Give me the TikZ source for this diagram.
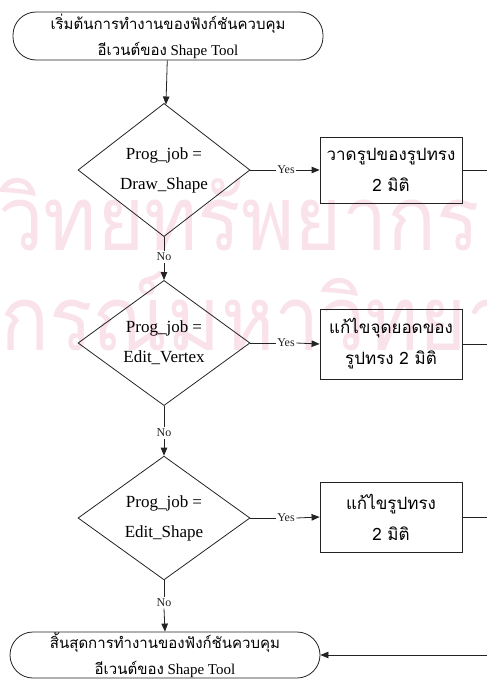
\documentclass[tikz,border=0pt]{standalone}
\usepackage{fontspec}
\setmainfont{Liberation Serif}
\newfontfamily\thaifont[Script=Thai]{Loma}
\usetikzlibrary{shapes.geometric,arrows.meta}
\definecolor{wmpink}{RGB}{250,226,235}
\definecolor{ink}{RGB}{35,35,35}
\tikzset{
  flow/.style={line width=0.8pt, draw=ink},
  arr/.style={flow, -{Triangle[length=8pt,width=6.5pt]}},
  term/.style={draw=ink, line width=0.8pt, rectangle, rounded corners=23pt,
    minimum width=310pt, minimum height=46pt, inner sep=0pt, align=center,
    font=\fontsize{15}{17}\selectfont},
  decide/.style={draw=ink, line width=0.8pt, diamond, minimum width=172pt,
    minimum height=104pt, inner sep=0pt, align=center,
    font=\fontsize{17}{19}\selectfont},
  action/.style={draw=ink, line width=0.8pt, rectangle, minimum width=142pt,
    minimum height=68pt, inner sep=0pt, align=center,
    font=\thaifont\fontsize{17}{19}\selectfont},
  tag/.style={font=\fontsize{12}{14}\selectfont, inner sep=1.5pt, text=ink},
  wm/.style={text=wmpink, inner sep=0pt, anchor=base west, xscale=0.9,
    font=\thaifont\fontsize{90}{90}\selectfont},
}
\begin{document}
\begin{tikzpicture}[x=1pt, y=-1pt]
\useasboundingbox (0,0) rectangle (487,680);

% background stamp lettering
\node[wm] (wmA) at (-2,250) {\llap{ศูนย์}วิทยทรัพยากร};
\node[wm] (wmB) at (0,350) {\llap{จุฬาลง}กรณ์มหาวิทยาลัย};

% terminators
\node[term, minimum height=48pt] (s) at (168,36)
  {{\thaifont เริ่มต้นการทำงานของฟังก์ชันควบคุม}\\[8pt]{\thaifont อีเวนต์ของ} Shape Tool};
\node[term] (e) at (165,655)
  {{\thaifont สิ้นสุดการทำงานของฟังก์ชันควบคุม}\\[8pt]{\thaifont อีเวนต์ของ} Shape Tool};

% decisions
\node[decide] (d1) at (164,170) {Prog\_job =\\[11pt]Draw\_Shape};
\node[decide] (d2) at (164,343) {Prog\_job =\\[11pt]Edit\_Vertex};
\node[decide] (d3) at (164,518) {Prog\_job =\\[11pt]Edit\_Shape};

% actions
\node[action, minimum height=66pt] (b1) at (391,170) {วาดรูปของรูปทรง\\[12pt]2 มิติ};
\node[action, minimum height=70pt] (b2) at (391,344) {แก้ไขจุดยอดของ\\[12pt]รูปทรง 2 มิติ};
\node[action, minimum height=70pt] (b3) at (391,517) {แก้ไขรูปทรง\\[12pt]2 มิติ};

% branch labels
\node[tag] (y1) at (286,170) {Yes};
\node[tag] (y2) at (286,343) {Yes};
\node[tag] (y3) at (286,518) {Yes};
\node[tag] (n1) at (164,257) {No};
\node[tag] (n2) at (164,433) {No};
\node[tag] (n3) at (164,603) {No};

% return rail just beyond the right edge
\coordinate (rail) at (493,0);

% connectors
\draw[arr] (s) -- (d1);
\draw[flow] (d1.east) -- (y1.west);
\draw[arr] (y1.east) -- (b1.west);
\draw[flow] (d2.east) -- (y2.west);
\draw[arr] (y2.east) -- (b2.west);
\draw[flow] (d3.east) -- (y3.west);
\draw[arr] (y3.east) -- (b3.west);
\draw[flow] (d1.south) -- (n1.north);
\draw[arr] (n1.south) -- (d2.north);
\draw[flow] (d2.south) -- (n2.north);
\draw[arr] (n2.south) -- (d3.north);
\draw[flow] (d3.south) -- (n3.north);
\draw[arr] (n3.south) -- (e.north);
\draw[flow] (b1.east) -- (b1.east -| rail);
\draw[flow] (b2.east) -- (b2.east -| rail);
\draw[flow] (b3.east) -- (b3.east -| rail);
\draw[arr] (b1.east -| rail) -- (rail |- e.east) -- (e.east);
\end{tikzpicture}
\end{document}
